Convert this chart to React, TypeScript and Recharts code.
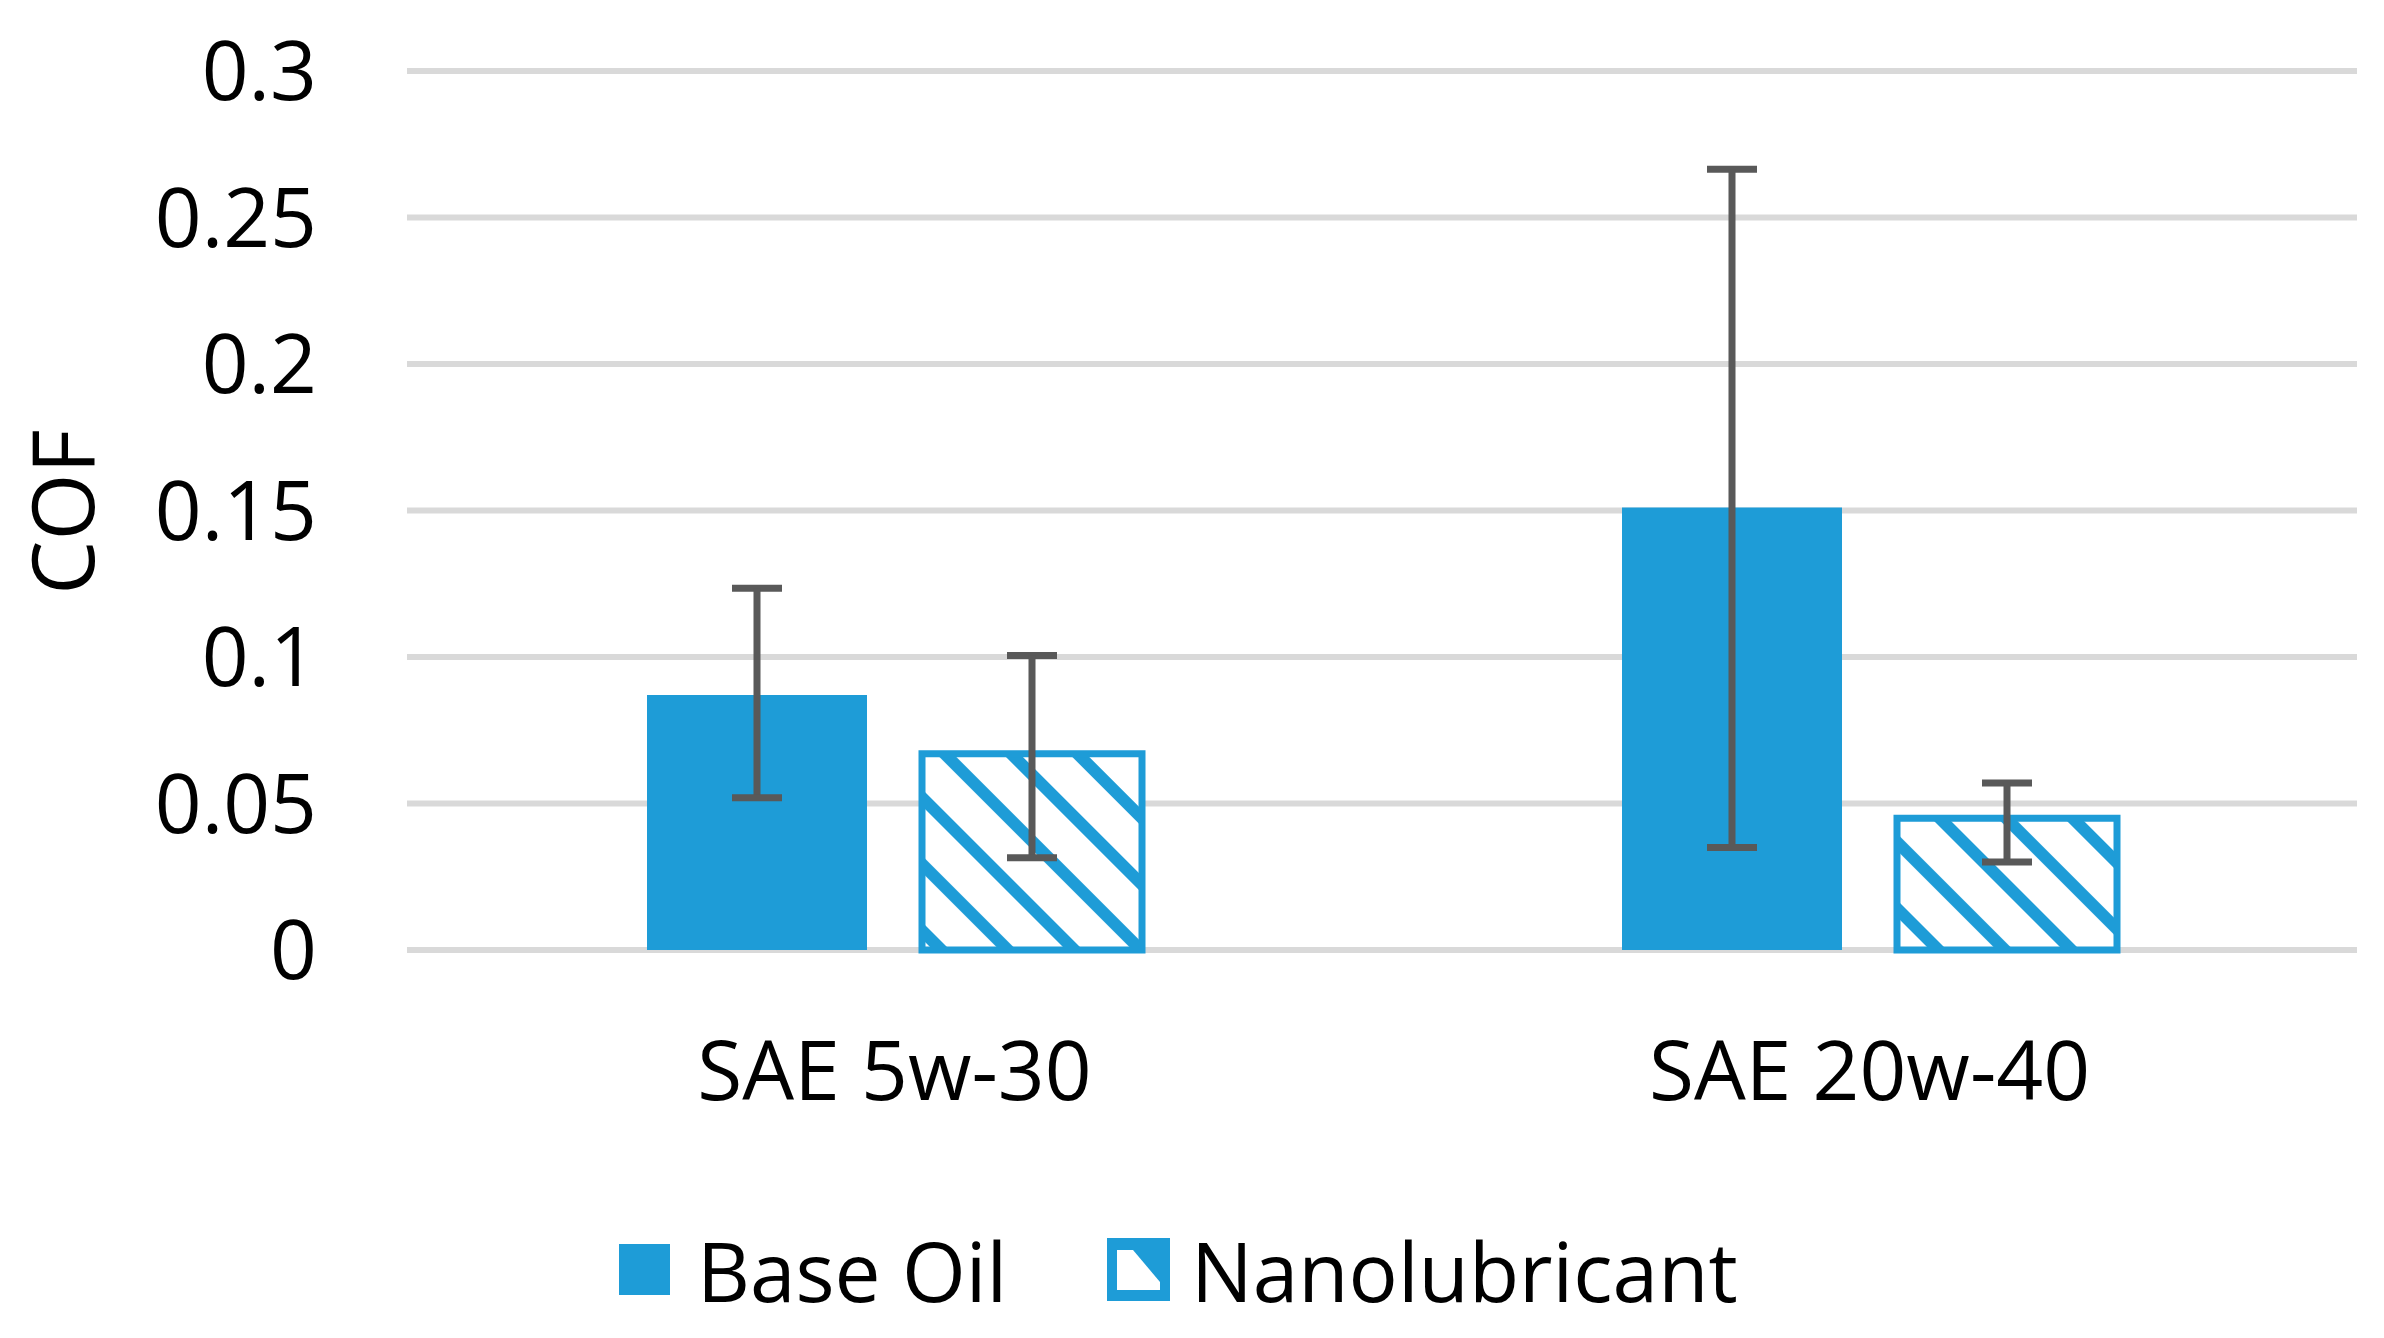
import React from "react";
import { BarChart, Bar, XAxis, YAxis, CartesianGrid, ErrorBar, Legend, Label } from "recharts";

const categories = ["SAE 5w-30", "SAE 20w-40"];
const baseOil = [0.087, 0.151];
const baseErrLow = [0.035, 0.116];
const baseErrHigh = [0.0365, 0.1155];
const nano = [0.067, 0.045];
const nanoErrLow = [0.0355, 0.015];
const nanoErrHigh = [0.0335, 0.012];
const yTicks = [0, 0.05, 0.1, 0.15, 0.2, 0.25, 0.3];

const BLUE = "#1E9CD7";
const FONT = "'Open Sans', sans-serif";

const data = categories.map((c, i) => ({
  name: c,
  base: baseOil[i],
  baseErr: [baseErrLow[i], baseErrHigh[i]],
  nano: nano[i],
  nanoErr: [nanoErrLow[i], nanoErrHigh[i]],
}));

const LegendContent = () => (
  <div style={{ position: "relative", width: 2384, height: 120, fontFamily: FONT, fontSize: 82, color: "#000" }}>
    <div style={{ position: "absolute", left: 619, top: 44, width: 51, height: 51, background: BLUE }} />
    <div style={{ position: "absolute", left: 697, top: 0, lineHeight: "140px", height: 140 }}>Base Oil</div>
    <svg style={{ position: "absolute", left: 1107, top: 38 }} width={63} height={63}>
      <rect x={0} y={0} width={63} height={63} fill={BLUE} />
      <polygon points="10,12 26,12 53,44 53,52 10,52" fill="#fff" />
    </svg>
    <div style={{ position: "absolute", left: 1191, top: 0, lineHeight: "140px", height: 140 }}>Nanolubricant</div>
  </div>
);

export default function App() {
  return (
    <div style={{ position: "absolute", left: 0, top: 0, width: 2384, height: 1338, background: "#fff" }}>
      <BarChart
        width={2384}
        height={1338}
        data={data}
        margin={{ top: 71, right: 27, bottom: 238, left: 0 }}
        barSize={220}
        barGap={55}
      >
        <defs>
          <pattern id="hatch" patternUnits="userSpaceOnUse" width={47} height={47} patternTransform="rotate(45)">
            <rect x={0} y={0} width={47} height={47} fill="#fff" />
            <rect x={0} y={0} width={47} height={12} fill={BLUE} />
          </pattern>
        </defs>
        <CartesianGrid vertical={false} stroke="#D9D9D9" strokeWidth={6} />
        <XAxis
          dataKey="name"
          axisLine={false}
          tickLine={false}
          tickSize={0}
          tickMargin={92}
          height={150}
          tick={{ fontSize: 82, fill: "#000", fontFamily: FONT }}
        />
        <YAxis
          domain={[0, 0.3]}
          ticks={yTicks}
          axisLine={false}
          tickLine={false}
          tickSize={0}
          tickMargin={90}
          width={407}
          tick={{ fontSize: 82, fill: "#000", fontFamily: FONT }}
        >
          <Label
            content={() => (
              <text
                x={60}
                y={512}
                transform="rotate(-90 60 512)"
                textAnchor="middle"
                dominantBaseline="central"
                fontSize={86}
                fontFamily={FONT}
                fill="#000"
              >
                COF
              </text>
            )}
          />
        </YAxis>
        <Legend
          layout="vertical"
          verticalAlign="middle"
          align="center"
          wrapperStyle={{ left: 0, top: 1200, width: 2384, height: 140 }}
          content={() => <LegendContent />}
        />
        <Bar dataKey="base" name="Base Oil" fill={BLUE} isAnimationActive={false}>
          <ErrorBar dataKey="baseErr" width={25} strokeWidth={7} stroke="#595959" direction="y" />
        </Bar>
        <Bar dataKey="nano" name="Nanolubricant" fill="url(#hatch)" stroke={BLUE} strokeWidth={7} isAnimationActive={false}>
          <ErrorBar dataKey="nanoErr" width={25} strokeWidth={7} stroke="#595959" direction="y" />
        </Bar>
      </BarChart>
    </div>
  );
}
